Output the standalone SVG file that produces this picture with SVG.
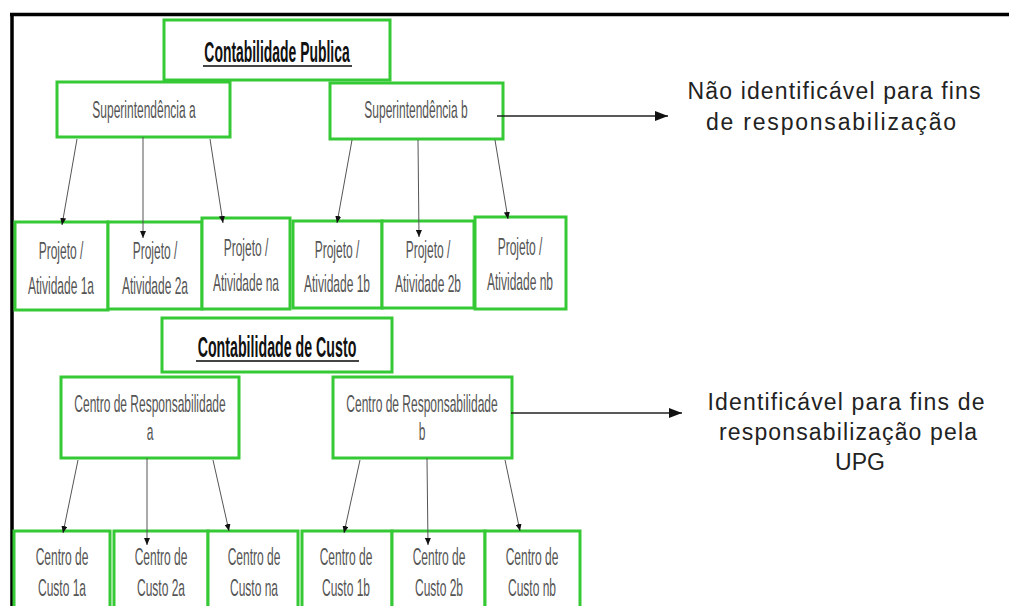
<svg xmlns="http://www.w3.org/2000/svg" width="1009" height="606" viewBox="0 0 1009 606">
  <style>
    .box { fill: #ffffff; stroke: #36c936; stroke-width: 3; }
    .lbl { font-family: "Liberation Sans", Arial, sans-serif; font-size: 24px; fill: #555555; text-anchor: middle; }
    .ttl { font-family: "Liberation Sans", Arial, sans-serif; font-size: 29px; font-weight: bold; fill: #111111; text-anchor: middle; }
    .ul { stroke: #444444; stroke-width: 2; }
    .side { font-family: "Liberation Sans", Arial, sans-serif; font-size: 23px; fill: #222222; text-anchor: middle; }
    .link { stroke: #555555; stroke-width: 1; fill: none; marker-end: url(#tip); }
    .out { stroke: #222222; stroke-width: 1.6; fill: none; marker-end: url(#bigtip); }
  </style>
  <defs>
    <marker id="tip" markerUnits="userSpaceOnUse" markerWidth="8" markerHeight="6" refX="7" refY="3" orient="auto">
      <path d="M0,0 L7,3 L0,6 z" fill="#111111"/>
    </marker>
    <marker id="bigtip" markerUnits="userSpaceOnUse" markerWidth="14" markerHeight="10" refX="13" refY="5" orient="auto">
      <path d="M0,0 L13,5 L0,10 z" fill="#111111"/>
    </marker>
  </defs>

  <rect width="1009" height="606" fill="#ffffff"/>
  <!-- frame -->
  <line x1="10" y1="14.5" x2="1009" y2="14.5" stroke="#000" stroke-width="3.5"/>
  <line x1="12" y1="13" x2="12" y2="606" stroke="#000" stroke-width="3.5"/>

  <!-- upper hierarchy -->
  <g id="contabilidade-publica">
    <rect class="box" x="164" y="20" width="226" height="60"/>
    <text class="ttl" transform="translate(277,62) scale(0.48,1)">Contabilidade Publica</text>
    <line class="ul" x1="203" y1="66" x2="352" y2="66"/>
  </g>
  <g id="superintendencia-a">
    <rect class="box" x="57" y="82" width="173" height="55"/>
    <text class="lbl" transform="translate(144,118) scale(0.5,1)">Superintendência a</text>
  </g>
  <g id="superintendencia-b">
    <rect class="box" x="330" y="83" width="173" height="56"/>
    <text class="lbl" transform="translate(416,118) scale(0.5,1)">Superintendência b</text>
  </g>

  <g id="projeto-1a">
    <rect class="box" x="15" y="222" width="93" height="88"/>
    <text class="lbl" transform="translate(61,259) scale(0.5,1)">Projeto /</text>
    <text class="lbl" transform="translate(61,294) scale(0.5,1)">Atividade 1a</text>
  </g>
  <g id="projeto-2a">
    <rect class="box" x="108" y="222" width="94" height="87"/>
    <text class="lbl" transform="translate(155,259) scale(0.5,1)">Projeto /</text>
    <text class="lbl" transform="translate(155,294) scale(0.5,1)">Atividade 2a</text>
  </g>
  <g id="projeto-na">
    <rect class="box" x="202" y="218" width="88" height="91"/>
    <text class="lbl" transform="translate(246,256) scale(0.5,1)">Projeto /</text>
    <text class="lbl" transform="translate(246,291) scale(0.5,1)">Atividade na</text>
  </g>
  <g id="projeto-1b">
    <rect class="box" x="293" y="221" width="89" height="87"/>
    <text class="lbl" transform="translate(337,258) scale(0.5,1)">Projeto /</text>
    <text class="lbl" transform="translate(337,292) scale(0.5,1)">Atividade 1b</text>
  </g>
  <g id="projeto-2b">
    <rect class="box" x="382" y="221" width="92" height="87"/>
    <text class="lbl" transform="translate(428,258) scale(0.5,1)">Projeto /</text>
    <text class="lbl" transform="translate(428,292) scale(0.5,1)">Atividade 2b</text>
  </g>
  <g id="projeto-nb">
    <rect class="box" x="475" y="217" width="91" height="92"/>
    <text class="lbl" transform="translate(520,255) scale(0.5,1)">Projeto /</text>
    <text class="lbl" transform="translate(520,290) scale(0.5,1)">Atividade nb</text>
  </g>

  <!-- lower hierarchy -->
  <g id="contabilidade-de-custo">
    <rect class="box" x="162" y="318" width="230" height="54"/>
    <text class="ttl" transform="translate(277,357) scale(0.49,1)">Contabilidade de Custo</text>
    <line class="ul" x1="196" y1="361" x2="359" y2="361"/>
  </g>
  <g id="centro-responsabilidade-a">
    <rect class="box" x="61" y="377" width="178" height="81"/>
    <text class="lbl" transform="translate(150,412) scale(0.5,1)">Centro de Responsabilidade</text>
    <text class="lbl" transform="translate(150,440) scale(0.5,1)">a</text>
  </g>
  <g id="centro-responsabilidade-b">
    <rect class="box" x="333" y="377" width="179" height="81"/>
    <text class="lbl" transform="translate(422,412) scale(0.5,1)">Centro de Responsabilidade</text>
    <text class="lbl" transform="translate(422,440) scale(0.5,1)">b</text>
  </g>

  <g id="centro-custo-1a">
    <rect class="box" x="14" y="531" width="96" height="100"/>
    <text class="lbl" transform="translate(62,565) scale(0.5,1)">Centro de</text>
    <text class="lbl" transform="translate(62,596) scale(0.5,1)">Custo 1a</text>
  </g>
  <g id="centro-custo-2a">
    <rect class="box" x="114" y="531" width="94" height="100"/>
    <text class="lbl" transform="translate(161,565) scale(0.5,1)">Centro de</text>
    <text class="lbl" transform="translate(161,596) scale(0.5,1)">Custo 2a</text>
  </g>
  <g id="centro-custo-na">
    <rect class="box" x="208" y="531" width="90" height="100"/>
    <text class="lbl" transform="translate(254,565) scale(0.5,1)">Centro de</text>
    <text class="lbl" transform="translate(254,596) scale(0.5,1)">Custo na</text>
  </g>
  <g id="centro-custo-1b">
    <rect class="box" x="302" y="531" width="90" height="100"/>
    <text class="lbl" transform="translate(346,565) scale(0.5,1)">Centro de</text>
    <text class="lbl" transform="translate(346,596) scale(0.5,1)">Custo 1b</text>
  </g>
  <g id="centro-custo-2b">
    <rect class="box" x="392" y="531" width="93" height="100"/>
    <text class="lbl" transform="translate(439,565) scale(0.5,1)">Centro de</text>
    <text class="lbl" transform="translate(439,596) scale(0.5,1)">Custo 2b</text>
  </g>
  <g id="centro-custo-nb">
    <rect class="box" x="485" y="531" width="95" height="100"/>
    <text class="lbl" transform="translate(532,565) scale(0.5,1)">Centro de</text>
    <text class="lbl" transform="translate(532,596) scale(0.5,1)">Custo nb</text>
  </g>

  <!-- side notes -->
  <g id="nota-publica">
    <text class="side" x="834" y="99" textLength="293">Não identificável para fins</text>
    <text class="side" x="831" y="130" textLength="250">de responsabilização</text>
  </g>
  <g id="nota-custo">
    <text class="side" x="846" y="410" textLength="277">Identificável para fins de</text>
    <text class="side" x="848" y="440" textLength="258">responsabilização pela</text>
    <text class="side" x="860" y="470">UPG</text>
  </g>

  <!-- connectors -->
  <g id="connectors">
    <line class="link" x1="77" y1="139" x2="62" y2="225"/>
    <line class="link" x1="143" y1="137" x2="143" y2="238"/>
    <line class="link" x1="210" y1="139" x2="223" y2="223"/>
    <line class="link" x1="352" y1="140" x2="337" y2="223"/>
    <line class="link" x1="418" y1="140" x2="419" y2="237"/>
    <line class="link" x1="495" y1="140" x2="508" y2="219"/>

    <line class="link" x1="78" y1="460" x2="63" y2="533"/>
    <line class="link" x1="147" y1="458" x2="147" y2="545"/>
    <line class="link" x1="213" y1="460" x2="229" y2="531"/>
    <line class="link" x1="360" y1="460" x2="344" y2="533"/>
    <line class="link" x1="427" y1="458" x2="428" y2="545"/>
    <line class="link" x1="505" y1="460" x2="520" y2="531"/>

    <line class="out" x1="497" y1="116" x2="668" y2="116"/>
    <line class="out" x1="511" y1="413" x2="682" y2="413"/>
  </g>
</svg>
